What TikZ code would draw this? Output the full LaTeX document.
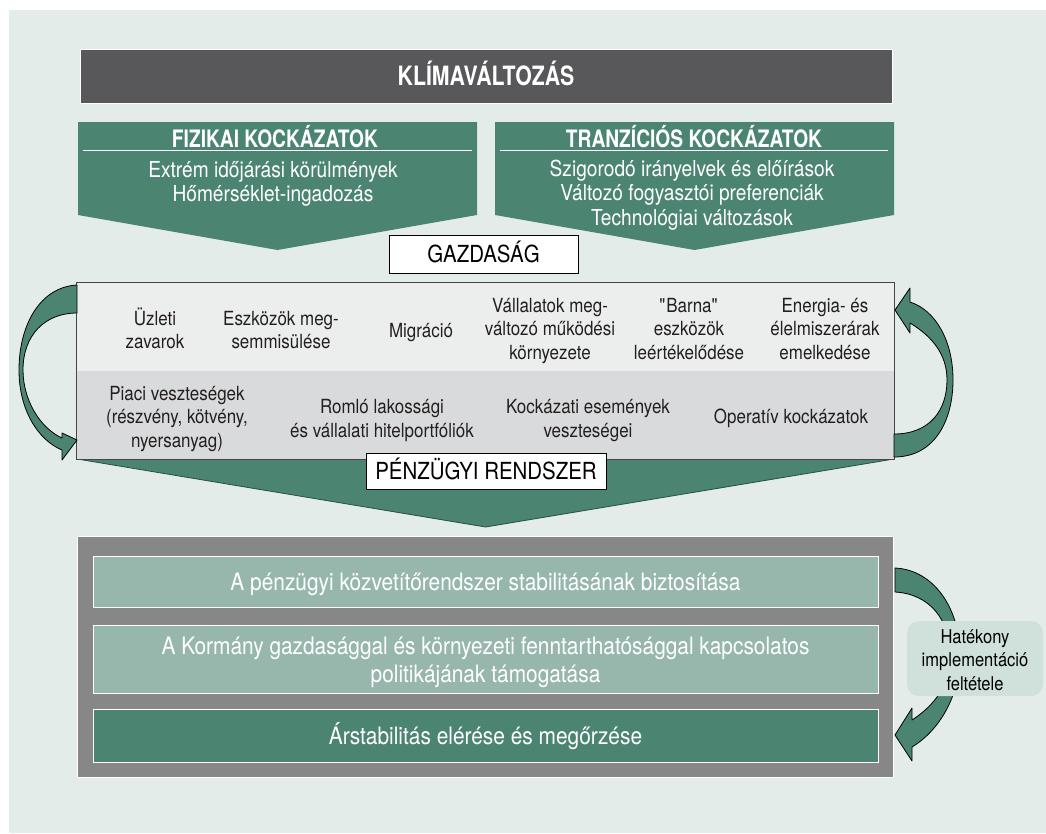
\documentclass[tikz,border=0pt]{standalone}
\usepackage{fontspec}
\setmainfont{TeX Gyre Heros}[FakeStretch=0.87]
\newfontfamily\cnbold{TeX Gyre Heros}[FakeStretch=0.80]
\definecolor{bgc}{RGB}{227,236,233}
\definecolor{titlec}{RGB}{88,88,90}
\definecolor{cgreen}{RGB}{75,133,114}
\definecolor{dgreen}{RGB}{40,80,66}
\definecolor{rowtopc}{RGB}{236,238,237}
\definecolor{rowbotc}{RGB}{217,218,219}
\definecolor{grayc}{RGB}{135,135,136}
\definecolor{lgreen}{RGB}{151,183,173}
\definecolor{hatc}{RGB}{207,225,218}
\definecolor{textdark}{RGB}{35,31,32}
\definecolor{borderc}{RGB}{70,70,70}
\tikzset{
  pent/.style={fill=cgreen},
  headtext/.style={font=\cnbold\bfseries\fontsize{24}{28}\selectfont, text=white, inner sep=0pt},
  wtext/.style={font=\fontsize{22}{24.5}\selectfont, text=white, align=center, inner sep=0pt},
  midtext/.style={font=\fontsize{19.5}{23.5}\selectfont, text=textdark, align=center, inner sep=0pt},
  labelbox/.style={draw=black, line width=1pt, fill=white, inner sep=0pt, text=black,
    font=\fontsize{23.5}{28}\selectfont, text height=16.9pt, text depth=0pt},
  curvarrow/.style={fill=cgreen, draw=black, line width=0.8pt, line join=round},
  goalbox/.style={draw=white, line width=1pt, inner sep=0pt, minimum width=785pt, text=white,
    font=\fontsize{24}{28}\selectfont},
  goaltext/.style={font=\fontsize{24}{28}\selectfont, text=white, align=center, inner sep=0pt}
}
\begin{document}
\begin{tikzpicture}[x=1pt,y=-1pt]
\useasboundingbox (0,0) rectangle (1046,833);
\fill[white] (0,0) rectangle (1046,833);
\fill[bgc] (9,10) rectangle (1046,833);

% title
\node[fill=titlec, draw=white, line width=1pt, inner sep=0pt, minimum width=812pt, minimum height=54pt,
  text=white, font=\cnbold\bfseries\fontsize{26.6}{30}\selectfont, text height=19.1pt, text depth=0pt]
  (clim) at (486,76) {KLÍMAVÁLTOZÁS};

% risk pentagons
\fill[pent] (78,122) -- (477,122) -- (477,215) -- (277.5,250) -- (78,215) -- cycle;
\fill[pent] (495,122) -- (894,122) -- (894,215) -- (694.5,250) -- (495,215) -- cycle;
\node[headtext, anchor=base] (phys) at (275,147) {FIZIKAI KOCKÁZATOK};
\node[headtext, anchor=base] (trans) at (694,147) {TRANZÍCIÓS KOCKÁZATOK};
\draw[white, line width=1pt] (83,150.5) -- (472,150.5);
\draw[white, line width=1pt] (500,150.5) -- (888,150.5);
% anchor=base of a multi-line node is the baseline of its last line
\node[wtext, anchor=base] (physl) at (273,201.5) {Extrém időjárási körülmények\\Hőmérséklet-ingadozás};
\node[wtext, anchor=base] (transl) at (692,225) {Szigorodó irányelvek és előírások\\Változó fogyasztói preferenciák\\Technológiai változások};

% economy label
\node[labelbox, minimum width=189pt, minimum height=38pt] (eco) at (483.5,254) {GAZDASÁG};

% big green arrow under middle box
\fill[pent, draw=dgreen, line width=0.8pt] (77,430) -- (894,430) -- (894,459) -- (485.5,527) -- (77,459) -- cycle;

% middle rows
\node[fill=rowtopc, inner sep=0pt, minimum width=817pt, minimum height=88pt] (ecorow) at (485.5,327) {};
\node[fill=rowbotc, inner sep=0pt, minimum width=817pt, minimum height=88pt] (finrow) at (485.5,415) {};
\draw[borderc, line width=1.2pt] (ecorow.north west) rectangle (finrow.south east);

\node[midtext, anchor=base] (t1) at (155,348.5) {Üzleti\\zavarok};
\node[midtext, anchor=base] (t2) at (281,348.5) {Eszközök meg-\\semmisülése};
\node[midtext, anchor=base] (t3) at (421,337) {Migráció};
\node[midtext, anchor=base] (t4) at (550,359) {Vállalatok meg-\\változó működési\\környezete};
\node[midtext, anchor=base] (t5) at (689,359) {\textquotedbl Barna\textquotedbl\\eszközök\\leértékelődése};
\node[midtext, anchor=base] (t6) at (825,359) {Energia- és\\élelmiszerárak\\emelkedése};
\node[midtext, anchor=base] (b1) at (177,447) {Piaci veszteségek\\(részvény, kötvény,\\nyersanyag)};
\node[midtext, anchor=base] (b2) at (382,437) {Romló lakossági\\és vállalati hitelportfóliók};
\node[midtext, anchor=base] (b3) at (588,437) {Kockázati események\\veszteségei};
\node[midtext, anchor=base] (b4) at (791,423) {Operatív kockázatok};

\node[labelbox, minimum width=240pt, minimum height=36pt] (fin) at (486,471) {PÉNZÜGYI RENDSZER};

% curved arrows around middle box
\draw[curvarrow] (77,285) .. controls (40,287) and (19,325) .. (19,370)
  .. controls (19,410) and (38,440) .. (62,450) -- (62,460) -- (77,440) -- (62,433) -- (62,438)
  .. controls (40,428) and (23,400) .. (23,370) .. controls (23,335) and (45,313) .. (77,313) -- cycle;
\draw[curvarrow] (894,457) .. controls (935,457) and (953,420) .. (953,380)
  .. controls (953,340) and (935,310) .. (910,302) -- (910,288) -- (895,310) -- (910,333) -- (910,323)
  .. controls (933,337) and (947,355) .. (947,380) .. controls (947,410) and (930,434) .. (894,434) -- cycle;

% goals
\node[fill=grayc, draw=white, line width=1pt, inner sep=0pt, minimum width=816pt, minimum height=241pt] (goals) at (485,656.5) {};
\node[goalbox, fill=lgreen, minimum height=51pt, text height=17.2pt, text depth=0pt] (g1) at (485.5,581.5)
  {A pénzügyi közvetítőrendszer stabilitásának biztosítása};
\node[goalbox, fill=lgreen, minimum height=68pt] (g2) at (485.5,659) {};
\node[goaltext, anchor=base] (g2t) at (485.5,682) {A Kormány gazdasággal és környezeti fenntarthatósággal kapcsolatos\\politikájának támogatása};
\node[goalbox, fill=cgreen, minimum height=53pt, text height=17.2pt, text depth=0pt] (g3) at (485.5,735.5)
  {Árstabilitás elérése és megőrzése};

% implementation arrow and label
\draw[curvarrow] (895,568) .. controls (935,570) and (960,610) .. (960,655)
  .. controls (960,695) and (940,730) .. (912,747) -- (912,761) -- (895,735) -- (912,708) -- (912,720)
  .. controls (935,705) and (950,685) .. (950,655) .. controls (950,620) and (930,594) .. (895,592) -- cycle;
\node[fill=hatc, rounded corners=12pt, inner sep=0pt, minimum width=136pt, minimum height=75pt] (cond) at (975,658.5) {};
\node[font=\fontsize{19}{23.5}\selectfont, text=black, align=center, inner sep=0pt, anchor=base] (condt) at (975,690)
  {Hatékony\\implementáció\\feltétele};
\end{tikzpicture}
\end{document}
